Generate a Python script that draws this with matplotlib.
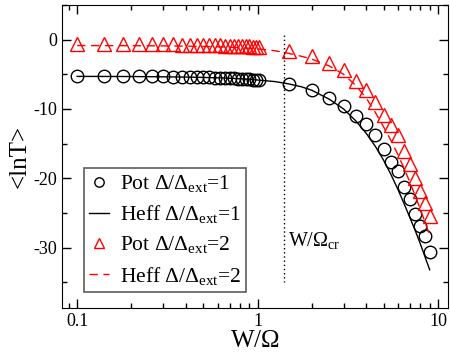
import numpy as np
import matplotlib.pyplot as plt
import matplotlib as mpl

mpl.rcParams["font.family"] = ["Liberation Serif", "DejaVu Serif"]
mpl.rcParams["mathtext.fontset"] = "custom"
mpl.rcParams["mathtext.rm"] = "Liberation Serif"
mpl.rcParams["mathtext.it"] = "Liberation Serif"
mpl.rcParams["axes.unicode_minus"] = False
mpl.rcParams["xtick.labelsize"] = 13
mpl.rcParams["ytick.labelsize"] = 13
mpl.rcParams["axes.labelsize"] = 18

# data
W_low = [0.10, 0.14, 0.18, 0.22, 0.26, 0.30, 0.34, 0.38, 0.42, 0.46, 0.50, 0.54,
         0.58, 0.62, 0.66, 0.70, 0.74, 0.78, 0.82, 0.86, 0.90, 0.94, 0.98, 1.02]
W_high = [1.5, 2.0, 2.5, 3.0, 3.5, 4.0, 4.5, 5.0, 5.5, 6.0, 6.5, 7.0, 7.5, 8.0, 8.5, 9.0]

pot1_low = [-5.25, -5.25, -5.25, -5.27, -5.28, -5.30, -5.32, -5.34, -5.36, -5.38, -5.41, -5.44,
            -5.47, -5.50, -5.53, -5.56, -5.59, -5.62, -5.65, -5.68, -5.72, -5.75, -5.78, -5.82]
pot1_high = [-6.4, -7.3, -8.4, -9.5, -11.0, -12.1, -13.8, -15.8, -17.6, -18.9, -21.3, -23.0,
             -25.1, -26.9, -28.3, -30.7]

pot2_low = [-0.65, -0.65, -0.66, -0.67, -0.68, -0.69, -0.70, -0.72, -0.73, -0.75, -0.77, -0.79,
            -0.81, -0.83, -0.85, -0.87, -0.89, -0.91, -0.93, -0.95, -0.97, -0.99, -1.01, -1.04]
pot2_high = [-1.6, -2.3, -3.4, -4.4, -5.9, -7.3, -9.0, -10.8, -12.3, -13.7, -16.1, -17.9,
             -20.0, -21.9, -23.6, -25.4]

W_heff = [0.1, 0.2, 0.3, 0.4, 0.5, 0.6, 0.7, 0.8, 0.9, 1.0, 1.25, 1.5, 1.75, 2.0, 2.5, 3.0,
          3.5, 4.0, 4.5, 5.0, 5.5, 6.0, 6.5, 7.0, 7.5, 8.0, 8.5, 9.0]
heff1 = [-5.3, -5.32, -5.36, -5.4, -5.45, -5.5, -5.57, -5.64, -5.72, -5.82, -6.05, -6.4, -6.8,
         -7.3, -8.6, -10.0, -11.7, -13.5, -15.4, -17.4, -19.5, -21.6, -23.7, -25.7, -27.6,
         -29.5, -31.4, -33.2]
heff2 = [-0.85, -0.87, -0.9, -0.94, -0.98, -1.03, -1.09, -1.16, -1.24, -1.33, -1.6, -2.0, -2.4,
         -2.8, -3.8, -5.0, -6.6, -8.4, -10.5, -12.6, -14.6, -16.6, -18.6, -20.6, -22.6,
         -24.5, -26.4, -28.2]

W_cr = 1.4

fig = plt.figure(figsize=(4.5, 3.56), dpi=100)
ax = fig.add_axes([0.138, 0.135, 0.858, 0.851])

W_pot = W_low + W_high
ax.plot(W_pot, pot1_low + pot1_high, "o", mfc="none", mec="k", ms=9, mew=1.0,
        label=r"Pot $\Delta/\Delta_{\rm ext}$=1")
ax.plot(W_heff, heff1, "-", color="k", lw=1.0, label=r"Heff $\Delta/\Delta_{\rm ext}$=1")
ax.plot(W_pot, pot2_low + pot2_high, "^", mfc="none", mec="r", ms=9.5, mew=1.0,
        label=r"Pot $\Delta/\Delta_{\rm ext}$=2")
ax.plot(W_heff, heff2, color="r", lw=1.0, linestyle=(0, (6, 4)),
        label=r"Heff $\Delta/\Delta_{\rm ext}$=2")

ax.plot([W_cr, W_cr], [0.6, -35], color="k", lw=1.0, linestyle=(0, (1, 2)))
ax.text(1.47, -29.8, r"W/$\Omega_{\rm cr}$", fontsize=14.5)

ax.set_xscale("log")
ax.set_xlim(0.0825, 11.4)
ax.set_ylim(-38.7, 4.6)
ax.set_xticks([0.1, 1, 10])
ax.set_xticklabels(["0.1", "1", "10"])
ax.set_yticks([0, -10, -20, -30])
ax.set_yticks([5, -5, -15, -25, -35], minor=True)
ax.tick_params(which="both", direction="in", top=True, right=True)
ax.tick_params(which="major", length=6.5, width=1.0)
ax.tick_params(which="minor", length=3.5, width=1.0)
ax.xaxis.set_minor_formatter(mpl.ticker.NullFormatter())

ax.set_xlabel(r"W/$\Omega$", labelpad=0)
ax.set_ylabel("<lnT>", labelpad=2)

leg = ax.legend(loc="lower left", bbox_to_anchor=(0.057, 0.053), borderaxespad=0,
                fontsize=15.5, frameon=True, fancybox=False, handlelength=0.9,
                handletextpad=0.5, labelspacing=0.42, borderpad=0.25, markerscale=0.75)
leg.get_frame().set_edgecolor("#333333")
leg.get_frame().set_linewidth(1.2)

plt.savefig("out.png", dpi=100)
